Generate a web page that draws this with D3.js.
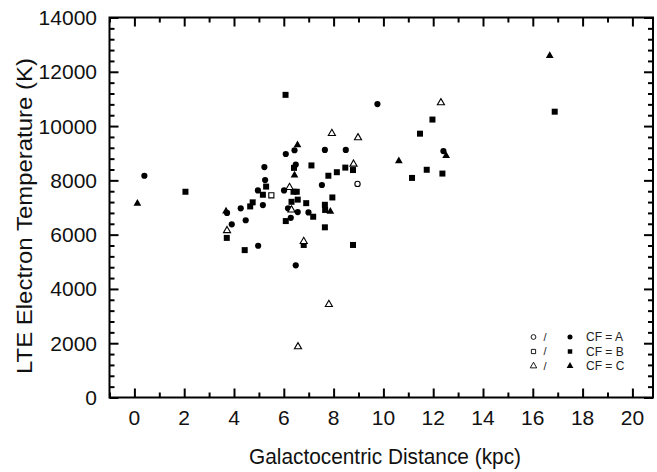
<!DOCTYPE html>
<html>
<head>
<meta charset="utf-8">
<script src="https://cdn.jsdelivr.net/npm/d3@7"></script>
<style>
html,body{margin:0;padding:0;background:#fff;}
svg{display:block;}
text{font-family:"Liberation Sans",Arial,Helvetica,sans-serif;}
</style>
</head>
<body>
<svg id="chart" width="657" height="472"></svg>
<script>
// ---- data (Galactocentric distance in kpc, LTE electron temperature in K) ----
const gradeAFilledR  = [0.40,3.72,3.91,4.27,4.47,4.96,4.97,5.16,5.25,5.22,9.76,6.43,6.08,7.65,8.49,12.41,6.48,7.53,6.01,6.17,6.25,6.56,6.28,6.99,6.48];
const gradeAFilledTe = [8170,6800,6380,6970,6530,7630,5590,7090,8010,8490,10810,9110,8970,9120,9120,9080,8580,7830,7630,6970,6945,6830,6620,6820,4870];
const gradeAOpenR    = [8.96];
const gradeAOpenTe   = [7870];

const gradeBFilledR  = [2.05,3.71,4.43,4.65,4.75,5.16,5.29,6.07,11.97,11.47,6.41,7.11,8.78,8.47,8.13,7.79,11.74,12.37,11.15,6.39,6.52,6.31,6.56,6.90,7.95,7.65,7.66,6.08,7.18,7.65,8.78,6.80,16.88];
const gradeBFilledTe = [7580,5880,5430,7040,7190,7470,7770,11150,10240,9720,8460,8550,8380,8470,8300,8170,8390,8250,8090,7580,7580,7210,7290,7160,7370,7100,6910,6500,6660,6270,5620,5620,10530];
const gradeBOpenR    = [5.50];
const gradeBOpenTe   = [7450];

const gradeCFilledR  = [0.12,3.68,6.55,12.52,10.62,6.43,7.87,16.68];
const gradeCFilledTe = [7150,6860,9300,8910,8710,8190,6850,12590];
const gradeCOpenR    = [3.72,12.31,7.93,8.98,8.80,6.23,6.31,6.80,7.81,6.57];
const gradeCOpenTe   = [6150,10860,9730,9570,8600,7740,6910,5750,3430,1870];

const xTickValues = [0,2,4,6,8,10,12,14,16,18,20];
const yTickValues = [0,2000,4000,6000,8000,10000,12000,14000];
const legendLabels = ["CF = A","CF = B","CF = C"];
const xTitle = "Galactocentric Distance (kpc)";
const yTitle = "LTE Electron Temperature (K)";

// ---- layout ----
const padL = 109.5, padR = 653, padT = 17.5, padB = 397.5;
const svg = d3.select("#chart");

const x = d3.scaleLinear().domain([-1, (padR-134.4)/24.9]).range([padL, padR]);
const y = d3.scaleLinear().domain([0, 14000]).range([padB, padT]);

// ---- axes with inward ticks on all four sides ----
const majorLen = 9, minorLen = 5;
const xMinor = d3.range(-1, 21, 1).filter(v => v % 2 !== 0);
const yMinor = d3.range(0, 14001, 400).filter(v => v % 2000 !== 0);

function tickAxis(axisGen, transform){
  const g = svg.append("g").attr("transform", transform).call(axisGen);
  g.select(".domain").remove();
  g.selectAll("line").attr("stroke","#000").attr("stroke-width",2);
  return g;
}
// bottom
tickAxis(d3.axisTop(x).tickValues(xTickValues).tickSize(majorLen).tickFormat(""), `translate(0,${padB})`);
tickAxis(d3.axisTop(x).tickValues(xMinor).tickSize(minorLen).tickFormat(""), `translate(0,${padB})`);
// top
tickAxis(d3.axisBottom(x).tickValues(xTickValues).tickSize(majorLen).tickFormat(""), `translate(0,${padT})`);
tickAxis(d3.axisBottom(x).tickValues(xMinor).tickSize(minorLen).tickFormat(""), `translate(0,${padT})`);
// left
tickAxis(d3.axisRight(y).tickValues(yTickValues).tickSize(majorLen).tickFormat(""), `translate(${padL},0)`);
tickAxis(d3.axisRight(y).tickValues(yMinor).tickSize(minorLen).tickFormat(""), `translate(${padL},0)`);
// right
tickAxis(d3.axisLeft(y).tickValues(yTickValues).tickSize(majorLen).tickFormat(""), `translate(${padR},0)`);
tickAxis(d3.axisLeft(y).tickValues(yMinor).tickSize(minorLen).tickFormat(""), `translate(${padR},0)`);

// frame
svg.append("rect").attr("x",padL).attr("y",padT).attr("width",padR-padL).attr("height",padB-padT)
  .attr("fill","none").attr("stroke","#000").attr("stroke-width",2);

// tick labels
svg.append("g").selectAll("text").data(xTickValues).join("text")
  .attr("x", d => x(d)).attr("y", 425).attr("text-anchor","middle")
  .attr("font-size",21).attr("fill","#111").text(d => d);
svg.append("g").selectAll("text").data(yTickValues).join("text")
  .attr("x", 97).attr("y", d => y(d)).attr("dy","0.36em").attr("text-anchor","end")
  .attr("font-size",21).attr("fill","#111").text(d => d);

// axis titles
svg.append("text").attr("x", 385).attr("y", 464).attr("text-anchor","middle")
  .attr("font-size",22).attr("textLength",272).attr("lengthAdjust","spacingAndGlyphs")
  .attr("fill","#111").text(xTitle);
svg.append("text").attr("transform",`translate(32,216) rotate(-90)`).attr("text-anchor","middle")
  .attr("font-size",22).attr("textLength",316).attr("lengthAdjust","spacingAndGlyphs")
  .attr("fill","#111").text(yTitle);

// ---- markers ----
const symCircle = d3.symbol().type(d3.symbolCircle).size(30);
const symSquare = d3.symbol().type(d3.symbolSquare).size(36);
const symTri = d3.symbol().type(d3.symbolTriangle).size(26);

function plotSeries(rs, tes, sym, filled){
  svg.append("g").selectAll("path").data(rs.map((r,i)=>[r,tes[i]])).join("path")
    .attr("d", sym)
    .attr("transform", d => `translate(${x(d[0])},${y(d[1])})`)
    .attr("fill", filled ? "#000" : "#fff")
    .attr("stroke", "#000").attr("stroke-width", filled ? 0 : 1.1);
}
plotSeries(gradeAFilledR, gradeAFilledTe, symCircle, true);
plotSeries(gradeBFilledR, gradeBFilledTe, symSquare, true);
plotSeries(gradeCFilledR, gradeCFilledTe, symTri, true);
plotSeries(gradeAOpenR, gradeAOpenTe, d3.symbol().type(d3.symbolCircle).size(22), false);
plotSeries(gradeBOpenR, gradeBOpenTe, d3.symbol().type(d3.symbolSquare).size(26), false);
plotSeries(gradeCOpenR, gradeCOpenTe, d3.symbol().type(d3.symbolTriangle).size(22), false);

// ---- legend ----
const legSyms = [d3.symbolCircle, d3.symbolSquare, d3.symbolTriangle];
const legG = svg.append("g");
legendLabels.forEach((lab, i) => {
  const ly = 337 + i*14.5;
  legG.append("path").attr("d", d3.symbol().type(legSyms[i]).size(18)())
    .attr("transform",`translate(533.5,${ly})`).attr("fill","#fff").attr("stroke","#000").attr("stroke-width",0.9);
  legG.append("text").attr("x",545).attr("y",ly).attr("dy","0.36em").attr("text-anchor","middle")
    .attr("font-size",11).attr("fill","#222").text("/");
  legG.append("path").attr("d", d3.symbol().type(legSyms[i]).size(20)())
    .attr("transform",`translate(570,${ly})`).attr("fill","#000");
  legG.append("text").attr("x",586).attr("y",ly).attr("dy","0.36em")
    .attr("font-size",12).attr("fill","#222").text(lab);
});
</script>
</body>
</html>
